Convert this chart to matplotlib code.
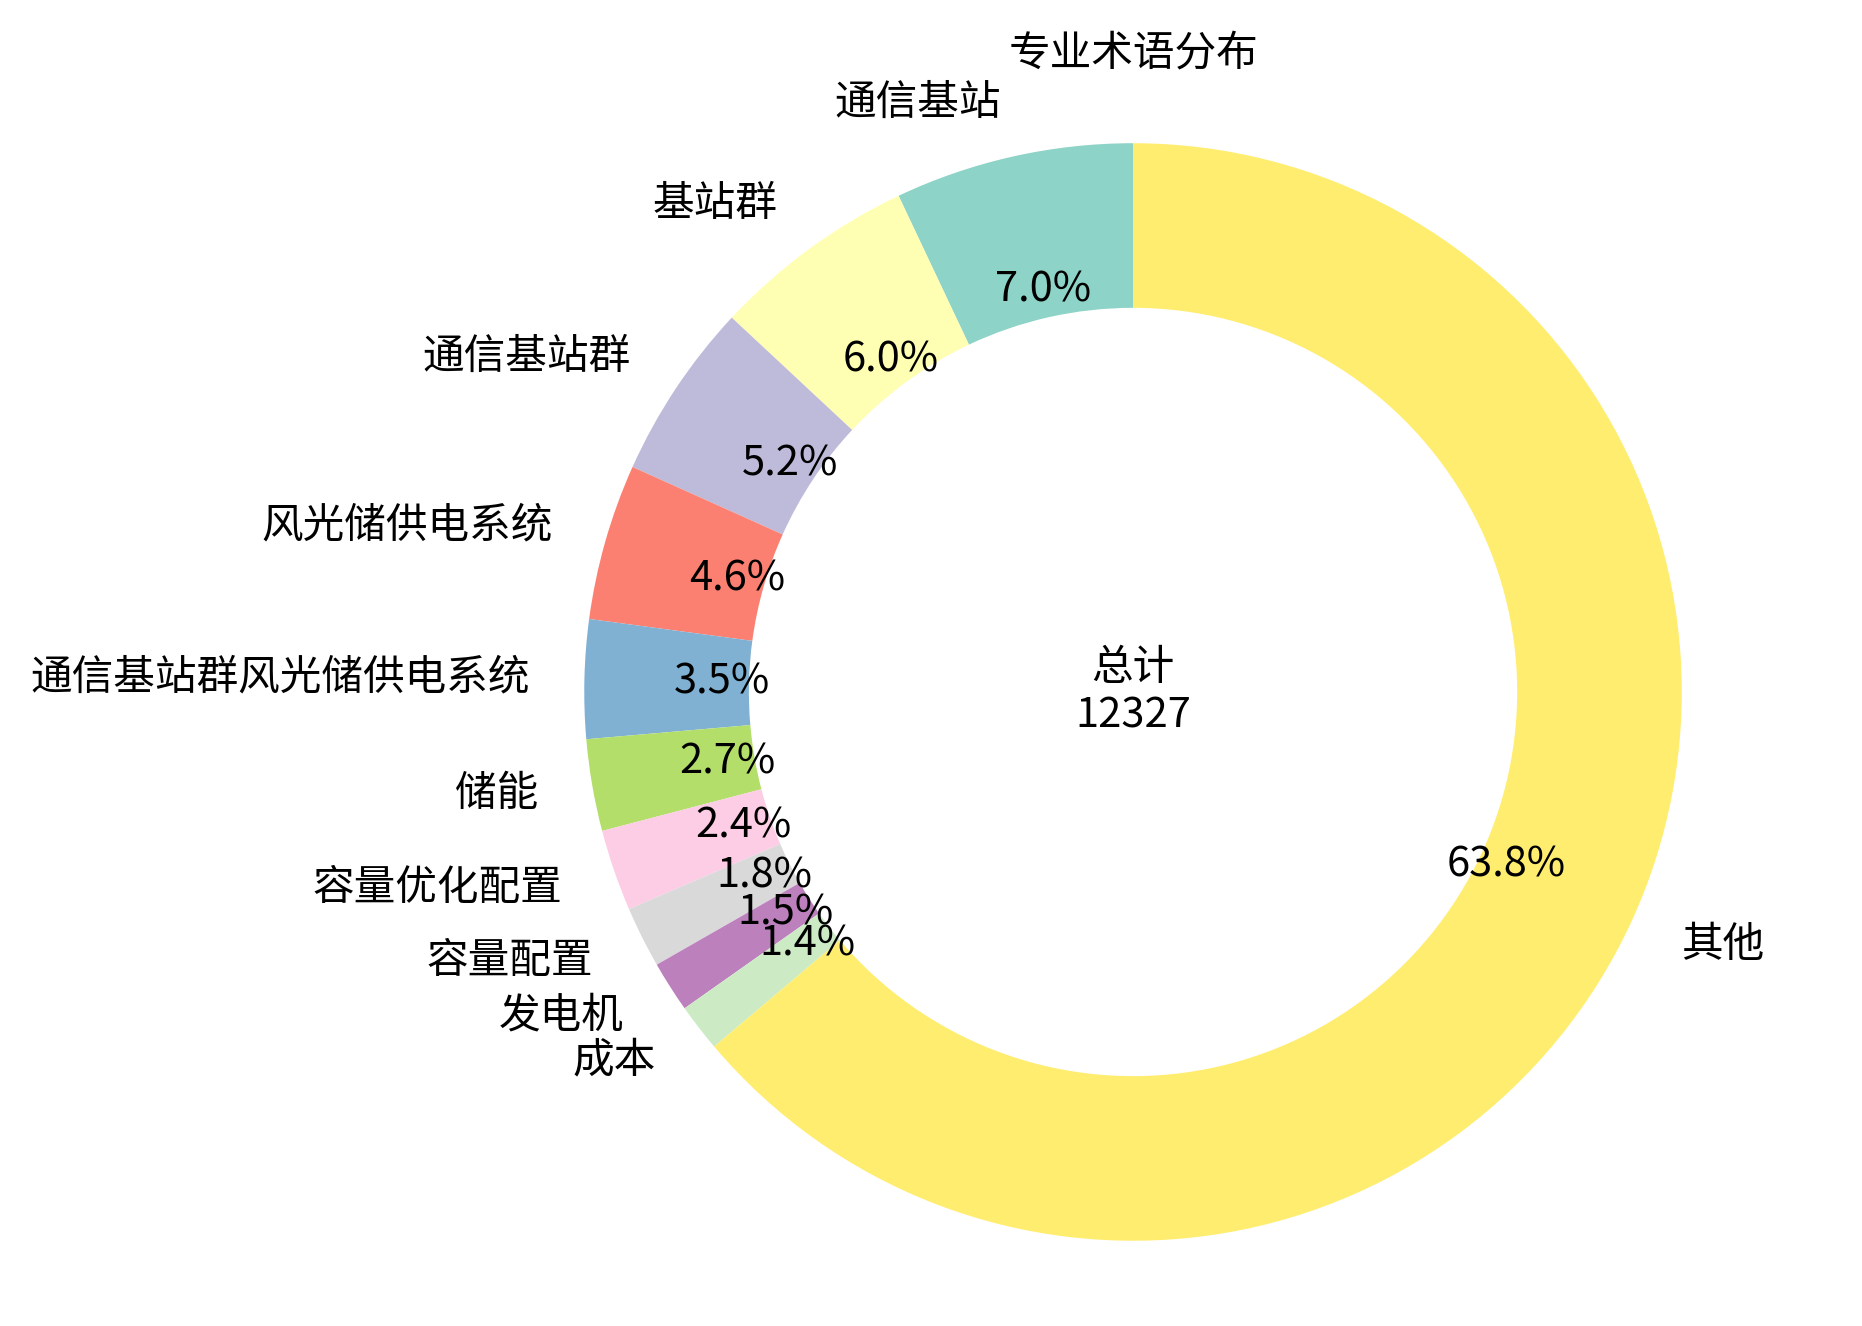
import numpy as np
import matplotlib
matplotlib.use('Agg')
import matplotlib.pyplot as plt

plt.rcParams['font.family'] = ['Noto Sans CJK SC', 'DejaVu Sans']

terms = ['通信基站', '基站群', '通信基站群', '风光储供电系统', '通信基站群风光储供电系统',
         '储能', '容量优化配置', '容量配置', '发电机', '成本', '其他']
counts = [866, 743, 644, 567, 431, 333, 296, 222, 185, 173, 7867]
total = sum(counts)

colors = plt.cm.Set3(np.linspace(0, 1, len(terms)))

fig = plt.figure(figsize=(9.31, 6.63), dpi=200)
ax = fig.add_axes([0.2401, -0.0392, 0.7368, 1.0347])

wedges, texts, autotexts = ax.pie(
    counts, labels=terms, colors=colors, autopct='%1.1f%%',
    startangle=90, pctdistance=0.75, labeldistance=1.1,
    wedgeprops=dict(width=0.3), textprops=dict(fontsize=15))
ax.set_aspect('equal')

ax.text(0, 0, f'总计\n{total}', ha='center', va='center', fontsize=15)
ax.set_title('专业术语分布', fontsize=15, y=0.957, pad=0)

fig.savefig('out.png', dpi=200)
